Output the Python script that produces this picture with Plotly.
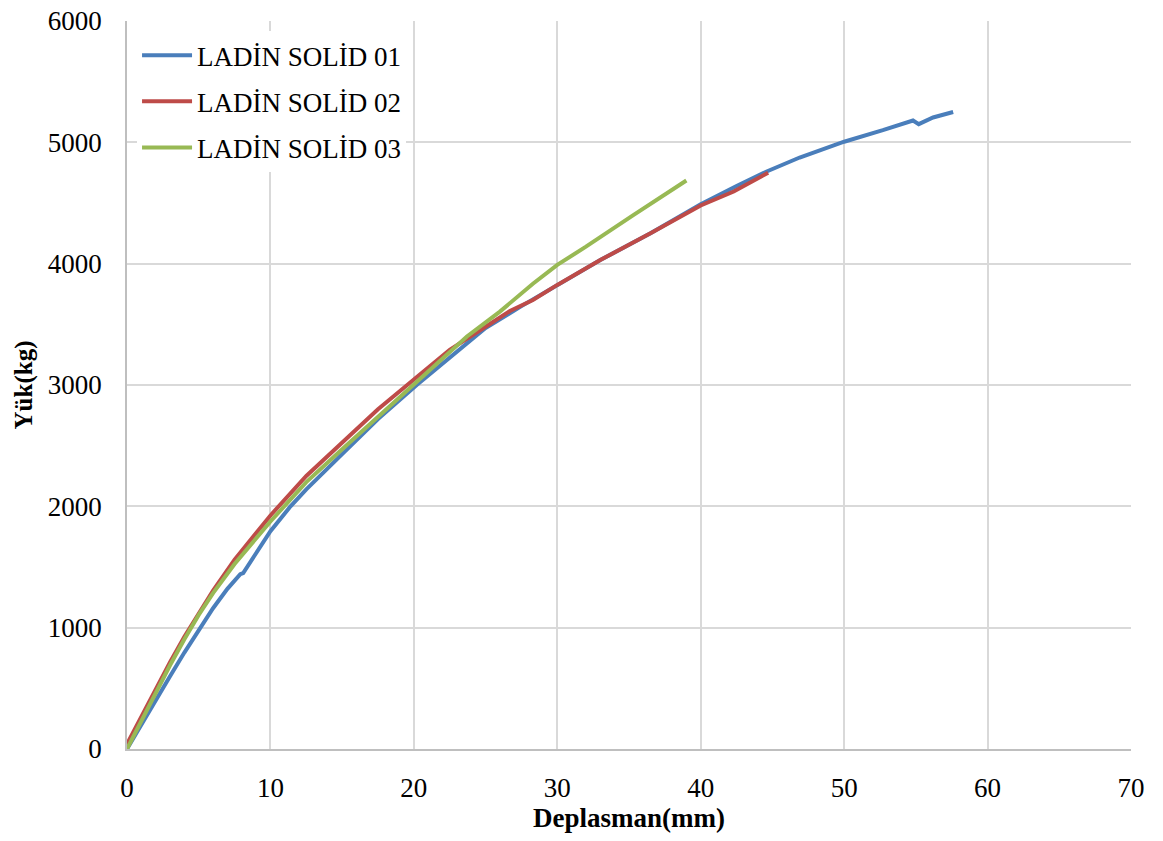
import plotly.graph_objects as go

# LADİN SOLİD 01 (blue)
x01 = [0, 1, 2, 3, 4, 5, 6, 7, 7.9, 8.1, 9, 10, 11.4, 12.5, 15, 17.5, 20.2, 22.5, 25, 27.5, 30, 33, 36.5, 40, 42.5, 44.6, 46.9, 48.5, 50, 52.7, 54.8, 55.2, 56.2, 57.6]
y01 = [0, 205, 405, 600, 795, 985, 1160, 1320, 1440, 1450, 1615, 1795, 2000, 2140, 2430, 2720, 3000, 3230, 3470, 3650, 3825, 4030, 4250, 4490, 4640, 4760, 4875, 4945, 5005, 5100, 5180, 5150, 5205, 5250]

# LADİN SOLİD 02 (red)
x02 = [0, 1, 2, 3, 4, 5, 6, 7.5, 10, 12.5, 15, 17.5, 20, 22.5, 25, 26.7, 28.3, 30, 33, 36.5, 40, 42.3, 44.7]
y02 = [40, 270, 495, 715, 925, 1120, 1305, 1560, 1925, 2250, 2525, 2800, 3045, 3290, 3480, 3610, 3700, 3825, 4030, 4250, 4480, 4595, 4750]

# LADİN SOLİD 03 (green)
x03 = [0, 1, 2, 3, 4, 5, 6, 7.5, 10, 12.5, 15, 17.5, 20, 23.7, 26, 28.3, 30, 32, 35.3, 39]
y03 = [0, 235, 465, 690, 905, 1105, 1285, 1525, 1875, 2200, 2470, 2740, 3000, 3400, 3605, 3835, 3990, 4140, 4400, 4685]

names = ["LADİN SOLİD 01", "LADİN SOLİD 02", "LADİN SOLİD 03"]
colors = ["#4A7EBB", "#BE4B48", "#98B954"]
xs = [x01, x02, x03]
ys = [y01, y02, y03]

FONT = "Liberation Serif, Times New Roman, serif"

fig = go.Figure()
for i in range(3):
    fig.add_trace(go.Scatter(
        x=xs[i], y=ys[i], mode="lines", name=names[i],
        legendgroup=f"g{i}",
        line=dict(color=colors[i], width=4),
    ))

fig.update_layout(
    width=1163, height=841,
    margin=dict(l=127, r=32, t=21, b=92, autoexpand=False),
    paper_bgcolor="white", plot_bgcolor="white",
    font=dict(family=FONT, size=27, color="black"),
    showlegend=True,
    legend=dict(
        x=0.01, y=0.986, xanchor="left", yanchor="top",
        bgcolor="white", borderwidth=0,
        font=dict(family=FONT, size=27, color="black"),
        tracegroupgap=8, itemwidth=50,
    ),
    xaxis=dict(
        range=[0, 70], dtick=10, tick0=0, automargin=False,
        showgrid=True, gridcolor="#D9D9D9", gridwidth=1.5,
        showline=True, linecolor="#BFBFBF", linewidth=1.5,
        zeroline=False, ticks="", ticklabelstandoff=14,
        tickfont=dict(family=FONT, size=27, color="black"),
        title=dict(text="<b>Deplasman(mm)</b>", font=dict(family=FONT, size=27, color="black"), standoff=4),
    ),
    yaxis=dict(
        range=[0, 6000], dtick=1000, tick0=0, automargin=False,
        showgrid=True, gridcolor="#D9D9D9", gridwidth=1.5,
        showline=True, linecolor="#BFBFBF", linewidth=1.5,
        zeroline=False, ticks="", ticklabelstandoff=18,
        tickfont=dict(family=FONT, size=27, color="black"),
        title=dict(text="<b>Yük(kg)</b>", font=dict(family=FONT, size=25, color="black"), standoff=8),
    ),
)

fig.write_html("out.html")
